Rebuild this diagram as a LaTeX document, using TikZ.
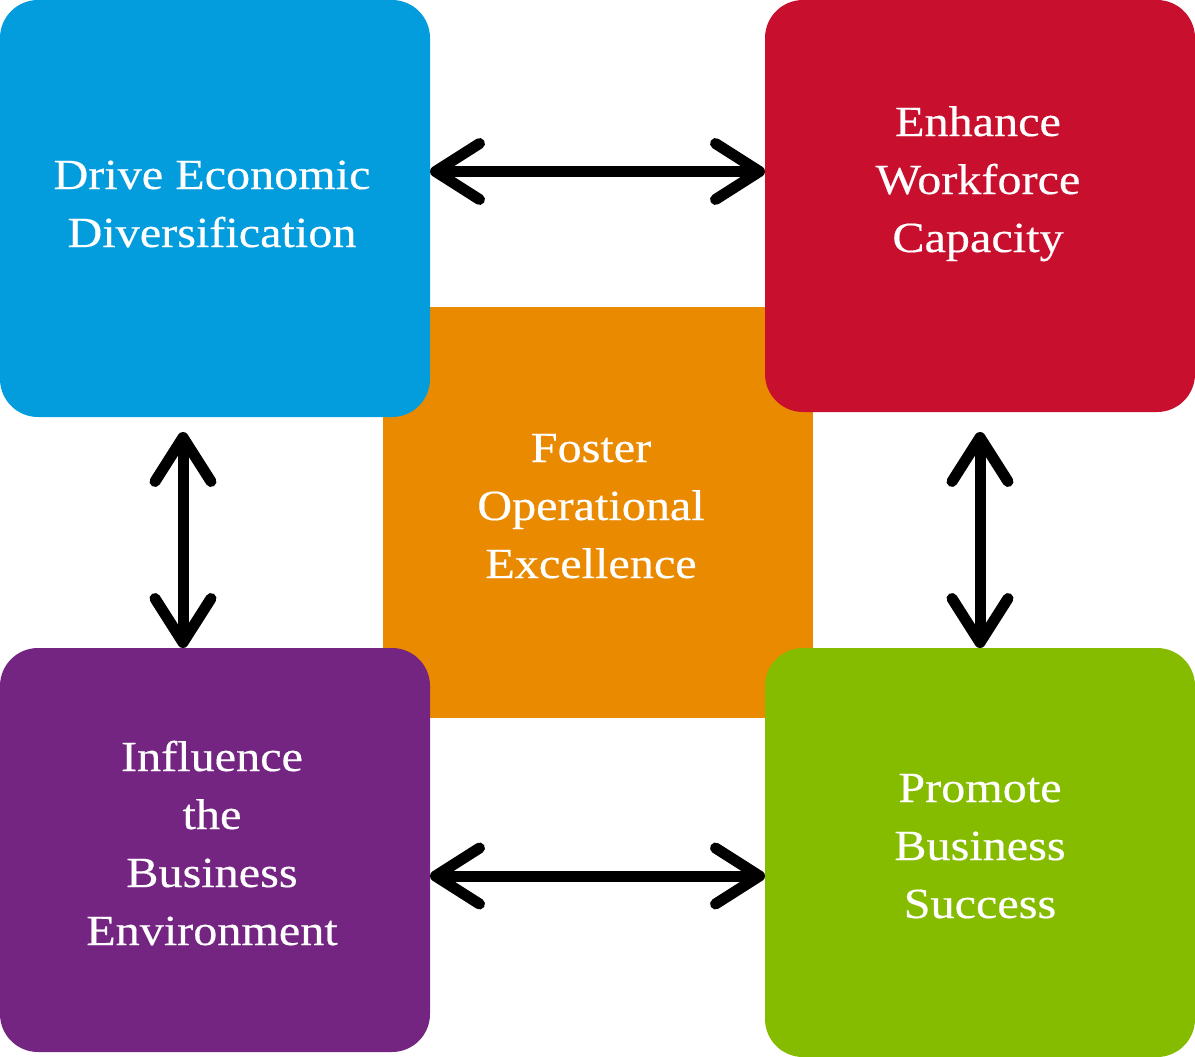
\documentclass[tikz,border=0pt]{standalone}
\usepackage{fontspec}
\setmainfont{Liberation Serif}[FakeStretch=1.12,FakeBold=0.4]
\usetikzlibrary{arrows.meta,calc}
\definecolor{tileblue}{RGB}{3,157,221}
\definecolor{tilered}{RGB}{200,16,46}
\definecolor{tileorange}{RGB}{234,138,0}
\definecolor{tilepurple}{RGB}{116,37,129}
\definecolor{tilegreen}{RGB}{134,188,0}
\begin{document}
\begin{tikzpicture}[x=1pt,y=-1pt,
  tile/.style={rectangle, rounded corners=38pt, inner sep=0pt, outer sep=0pt, draw=none},
  caption/.style={text=white, font=\fontsize{43}{58}\selectfont, align=center, anchor=base, inner sep=0pt},
  barb/.tip={Straight Barb[length=44pt,width=56pt,round]},
  twoway/.style={line width=11pt, {barb}-{barb}}
]
\useasboundingbox (0,0) rectangle (1195,1057);

% central tile sits underneath the four corner tiles
\node[tile, rounded corners=0pt, fill=tileorange, minimum width=430pt, minimum height=411pt] (core) at (598,512.5) {};
\node[tile, fill=tileblue,   minimum width=430pt, minimum height=417pt] (blue)   at (215,208.5) {};
\node[tile, fill=tilered,    minimum width=430pt, minimum height=412pt] (red)    at (980,206) {};
\node[tile, fill=tilepurple, minimum width=430pt, minimum height=404pt] (purple) at (215,850) {};
\node[tile, fill=tilegreen,  minimum width=430pt, minimum height=409pt] (green)  at (980,852.5) {};

% labels (placed by the baseline of their last line)
\node[caption] (tblue)   at (212,247) {Drive Economic\\Diversification};
\node[caption] (tred)    at (978,252) {Enhance\\Workforce\\Capacity};
\node[caption] (tcore)   at (591,578) {Foster\\Operational\\Excellence};
\node[caption] (tpurple) at (212,945) {Influence\\the\\Business\\Environment};
\node[caption] (tgreen)  at (980,918) {Promote\\Business\\Success};

% two-way connectors
\coordinate (top) at ($(blue.east)+(0,-37)$);
\coordinate (bottom) at ($(purple.east)+(0,26)$);
\coordinate (left) at ($(blue.south)+(-32,15)$);
\coordinate (right) at ($(red.south)+(0,20)$);
\draw[twoway] (top) -- (top -| red.west);
\draw[twoway] (bottom) -- (bottom -| green.west);
\draw[twoway] (left) -- (left |- purple.north);
\draw[twoway] (right) -- (right |- green.north);
\end{tikzpicture}
\end{document}
